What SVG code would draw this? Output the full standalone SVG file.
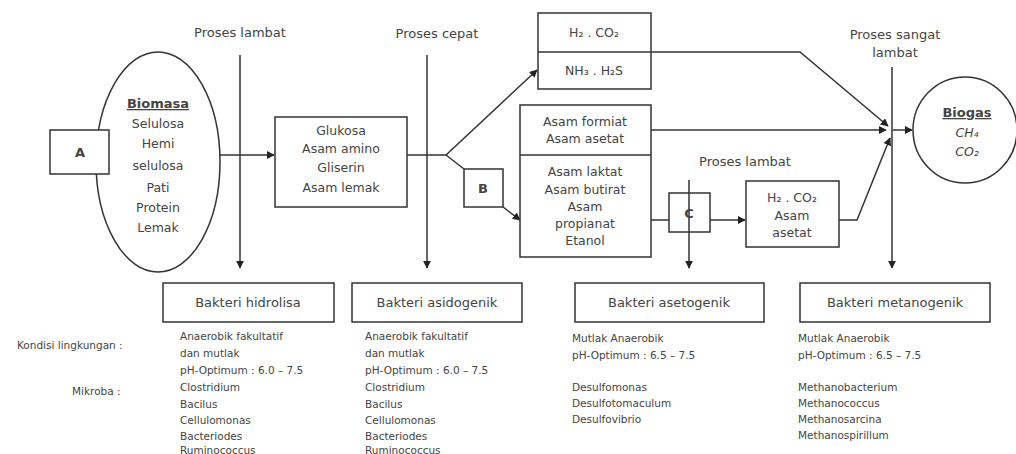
<svg xmlns="http://www.w3.org/2000/svg" width="1016" height="454" viewBox="0 0 1016 454">
<style>
text{font-family:"DejaVu Sans","Liberation Sans",sans-serif;fill:#444}
.m{font-size:12.5px;text-anchor:middle}
.l{font-size:13px;text-anchor:middle}
.s{font-size:10.5px}
.b{font-size:13px;font-weight:bold;text-anchor:middle}
.box{fill:#fff;stroke:#333;stroke-width:1.5}
.ln{fill:none;stroke:#333;stroke-width:1.5}
</style>
<defs>
<marker id="ah" viewBox="0 0 10 10" refX="9" refY="5" markerWidth="8" markerHeight="8" markerUnits="userSpaceOnUse" orient="auto">
<path d="M0,0 L10,5 L0,10 z" fill="#222"/>
</marker>
</defs>
<rect width="1016" height="454" fill="#fff"/>
<g id="connectors">
<line class="ln" x1="240" y1="55" x2="240" y2="268" marker-end="url(#ah)"/>
<line class="ln" x1="427" y1="55" x2="427" y2="268" marker-end="url(#ah)"/>
<line class="ln" x1="689" y1="180" x2="689" y2="268" marker-end="url(#ah)"/>
<line class="ln" x1="892" y1="67" x2="892" y2="268" marker-end="url(#ah)"/>
<line class="ln" x1="220" y1="155" x2="274" y2="155" marker-end="url(#ah)"/>
<polyline class="ln" points="407,155 446,155 537,70" marker-end="url(#ah)"/>
<line class="ln" x1="446" y1="155" x2="464" y2="169"/>
<line class="ln" x1="503" y1="207" x2="520" y2="220" marker-end="url(#ah)"/>
<polyline class="ln" points="651,52 800,52 888,126" marker-end="url(#ah)"/>
<line class="ln" x1="651" y1="130" x2="886" y2="130" marker-end="url(#ah)"/>
<line class="ln" x1="651" y1="220" x2="669" y2="220"/>
<line class="ln" x1="710" y1="220" x2="745" y2="220" marker-end="url(#ah)"/>
<polyline class="ln" points="839,220 857,220 890,138" marker-end="url(#ah)"/>
<line class="ln" x1="893" y1="130" x2="912" y2="130" marker-end="url(#ah)"/>
</g>
<g id="biomasa">
<ellipse class="box" cx="158" cy="162" rx="62" ry="110"/>
<text class="b" x="158" y="108" text-decoration="underline">Biomasa</text>
<text class="m" x="158" y="128">Selulosa</text>
<text class="m" x="158" y="148">Hemi</text>
<text class="m" x="158" y="170">selulosa</text>
<text class="m" x="158" y="192">Pati</text>
<text class="m" x="158" y="212">Protein</text>
<text class="m" x="158" y="232">Lemak</text>
</g>
<g id="A">
<rect class="box" x="50" y="130" width="59" height="44"/>
<text class="b" x="80" y="157">A</text>
</g>
<g id="glukosa">
<rect class="box" x="275" y="117" width="132" height="90"/>
<text class="m" x="341" y="135">Glukosa</text>
<text class="m" x="341" y="153">Asam amino</text>
<text class="m" x="341" y="172">Gliserin</text>
<text class="m" x="341" y="192">Asam lemak</text>
</g>
<g id="B">
<rect class="box" x="464" y="169" width="39" height="38"/>
<text class="b" x="483" y="193">B</text>
</g>
<g id="gas1">
<rect class="box" x="538" y="13" width="113" height="76"/>
<line class="ln" x1="538" y1="52" x2="651" y2="52"/>
<text class="m" x="594" y="37">H₂ . CO₂</text>
<text class="m" x="594" y="75">NH₃ . H₂S</text>
</g>
<g id="asam">
<rect class="box" x="520" y="105" width="131" height="152"/>
<line class="ln" x1="520" y1="155" x2="651" y2="155"/>
<text class="m" x="585" y="126">Asam formiat</text>
<text class="m" x="585" y="143">Asam asetat</text>
<text class="m" x="585" y="176">Asam laktat</text>
<text class="m" x="585" y="194">Asam butirat</text>
<text class="m" x="585" y="211">Asam</text>
<text class="m" x="585" y="228">propianat</text>
<text class="m" x="585" y="245">Etanol</text>
</g>
<g id="C">
<rect class="box" x="669" y="193" width="41" height="39"/>
<line class="ln" x1="689" y1="193" x2="689" y2="232"/>
<text class="b" x="689" y="218">C</text>
</g>
<g id="gas2">
<rect class="box" x="746" y="181" width="93" height="66"/>
<text class="m" x="792" y="202">H₂ . CO₂</text>
<text class="m" x="792" y="220">Asam</text>
<text class="m" x="792" y="237">asetat</text>
</g>
<g id="biogas">
<ellipse class="box" cx="965" cy="130" rx="52" ry="53"/>
<text class="b" x="967" y="117" text-decoration="underline">Biogas</text>
<text class="m" x="967" y="137" font-style="italic">CH₄</text>
<text class="m" x="967" y="156" font-style="italic">CO₂</text>
</g>
<g id="labels">
<text class="l" x="240" y="37">Proses lambat</text>
<text class="l" x="437" y="38">Proses cepat</text>
<text class="l" x="745" y="166">Proses lambat</text>
<text class="l" x="895" y="39">Proses sangat</text>
<text class="l" x="895" y="57">lambat</text>
</g>
<g id="hidrolisa">
<rect class="box" x="163" y="283" width="171" height="39"/>
<text class="l" x="248" y="307">Bakteri hidrolisa</text>
</g>
<g id="asidogenik">
<rect class="box" x="352" y="283" width="170" height="39"/>
<text class="l" x="437" y="307">Bakteri asidogenik</text>
</g>
<g id="asetogenik">
<rect class="box" x="575" y="283" width="189" height="39"/>
<text class="l" x="669" y="307">Bakteri asetogenik</text>
</g>
<g id="metanogenik">
<rect class="box" x="800" y="283" width="190" height="39"/>
<text class="l" x="895" y="307">Bakteri metanogenik</text>
</g>
<g id="notes" class="s">
<text class="s" x="17" y="349">Kondisi lingkungan :</text>
<text class="s" x="72" y="395">Mikroba :</text>
<text class="s" x="180" y="340">Anaerobik fakultatif</text>
<text class="s" x="180" y="357">dan mutlak</text>
<text class="s" x="180" y="374">pH-Optimum : 6.0 – 7.5</text>
<text class="s" x="180" y="391">Clostridium</text>
<text class="s" x="180" y="408">Bacilus</text>
<text class="s" x="180" y="424">Cellulomonas</text>
<text class="s" x="180" y="440">Bacteriodes</text>
<text class="s" x="180" y="454">Ruminococcus</text>
<text class="s" x="365" y="340">Anaerobik fakultatif</text>
<text class="s" x="365" y="357">dan mutlak</text>
<text class="s" x="365" y="374">pH-Optimum : 6.0 – 7.5</text>
<text class="s" x="365" y="391">Clostridium</text>
<text class="s" x="365" y="408">Bacilus</text>
<text class="s" x="365" y="424">Cellulomonas</text>
<text class="s" x="365" y="440">Bacteriodes</text>
<text class="s" x="365" y="454">Ruminococcus</text>
<text class="s" x="572" y="342">Mutlak Anaerobik</text>
<text class="s" x="572" y="359">pH-Optimum : 6.5 – 7.5</text>
<text class="s" x="572" y="391">Desulfomonas</text>
<text class="s" x="572" y="407">Desulfotomaculum</text>
<text class="s" x="572" y="423">Desulfovibrio</text>
<text class="s" x="798" y="342">Mutlak Anaerobik</text>
<text class="s" x="798" y="359">pH-Optimum : 6.5 – 7.5</text>
<text class="s" x="798" y="391">Methanobacterium</text>
<text class="s" x="798" y="407">Methanococcus</text>
<text class="s" x="798" y="423">Methanosarcina</text>
<text class="s" x="798" y="439">Methanospirillum</text>
</g>
</svg>
